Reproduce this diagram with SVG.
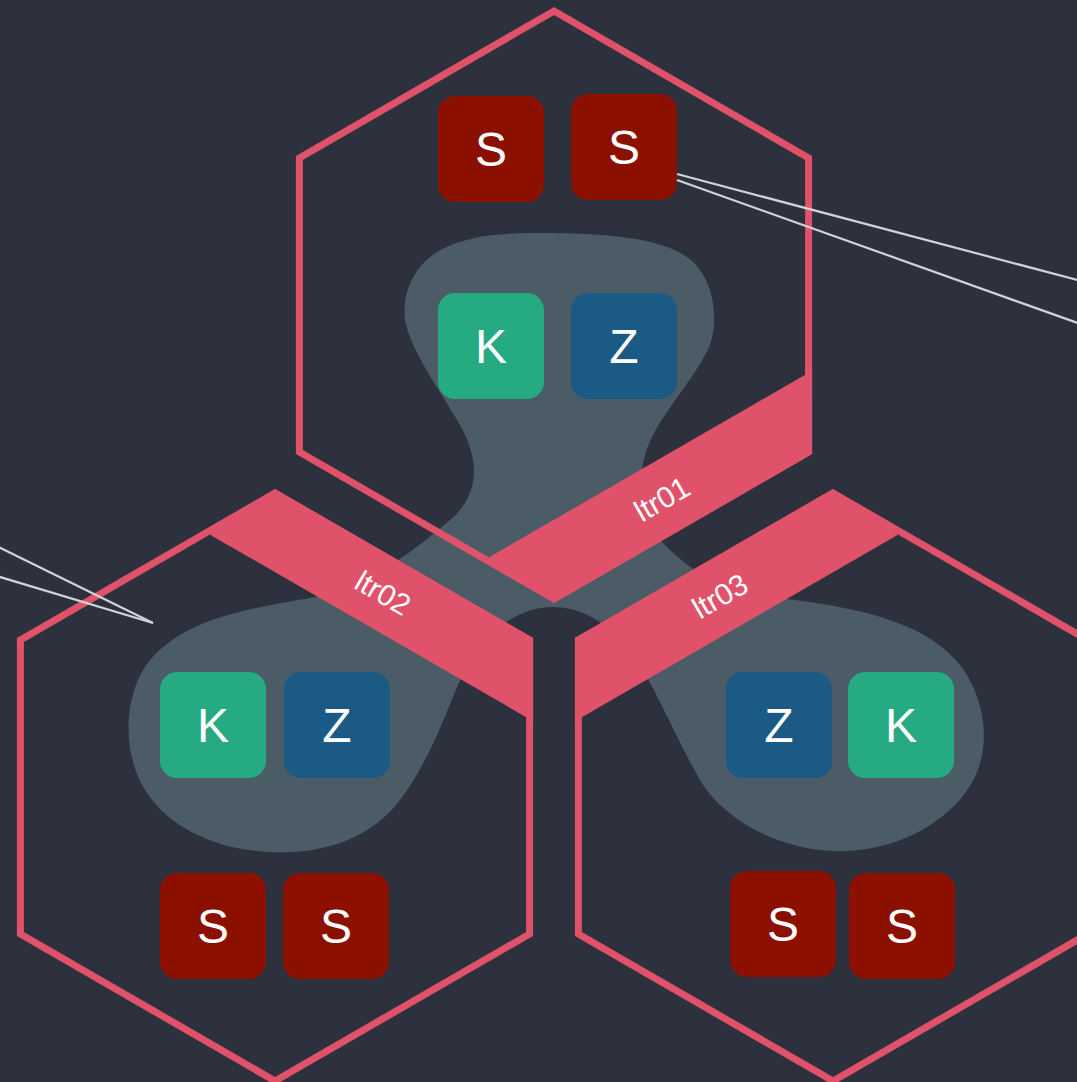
<svg xmlns="http://www.w3.org/2000/svg" width="1077" height="1082" viewBox="0 0 1077 1082">
<style>
.hex{fill:none;stroke:#e0526a;stroke-width:7;stroke-linejoin:miter}
.band{fill:#e0526a}
.lbl{font-family:"Liberation Sans",Arial,sans-serif;font-size:30px;fill:#ffffff;text-anchor:middle}
.n text{font-family:"Liberation Sans",Arial,sans-serif;font-size:48px;fill:#ffffff;text-anchor:middle}
.s rect{fill:#8c1000}
.k rect{fill:#26aa82}
.z rect{fill:#1a5a85}
.conn line{stroke:#d2d3d8;stroke-width:2.2;fill:none}
</style>
<rect x="0" y="0" width="1077" height="1082" fill="#2d303d"/>
<g id="blob">
<path fill="#4b5c67" d="M540 233 C620 233 680 240 700 270 C718 295 718 335 705 355 C690 385 655 420 645 455 C635 490 645 525 665 545 C690 570 720 590 760 596 C850 605 925 620 960 665 C985 697 1000 760 955 805 C915 845 860 855 820 850 C770 845 720 815 700 780 C680 745 665 710 650 683 C635 650 600 607 553 607 C505 607 475 650 460 680 C445 715 430 760 400 800 C370 840 320 855 270 852 C220 850 170 830 145 790 C120 750 125 690 150 660 C185 620 240 610 310 598 C360 590 410 555 450 520 C480 495 480 460 460 425 C440 390 410 350 405 320 C402 290 415 265 440 250 C470 235 500 233 540 233 Z"/>
</g>
<g id="ltr01">
<polygon class="hex" points="554,11 808.6,158 808.6,452 554,599 299.4,452 299.4,158"/>
<polygon class="band" points="489,557.3 554,603 812.1,454 812.1,370.8"/>
<text class="lbl" transform="translate(662,499) rotate(-30)" y="10.5">ltr01</text>
</g>
<g id="ltr02">
<polygon class="hex" points="275,493 529.6,640 529.6,934 275,1081 20.4,934 20.4,640"/>
<polygon class="band" points="210,534.7 275,489 533.1,638 533.1,721.2"/>
<text class="lbl" transform="translate(383,593) rotate(30)" y="10.5">ltr02</text>
</g>
<g id="ltr03">
<polygon class="hex" points="833,493 1087.6,640 1087.6,934 833,1081 578.4,934 578.4,640"/>
<polygon class="band" points="898,534.7 833,489 574.9,638 574.9,721.2"/>
<text class="lbl" transform="translate(720,596) rotate(-30)" y="10.5">ltr03</text>
</g>
<g id="n-top-s1" class="n s"><rect x="438" y="96" width="106" height="106" rx="17"/><text x="491" y="166">S</text></g>
<g id="n-top-s2" class="n s"><rect x="571" y="94" width="106" height="106" rx="17"/><text x="624" y="164">S</text></g>
<g id="n-top-k" class="n k"><rect x="438" y="293" width="106" height="106" rx="17"/><text x="491" y="363">K</text></g>
<g id="n-top-z" class="n z"><rect x="571" y="293" width="106" height="106" rx="17"/><text x="624" y="363">Z</text></g>
<g id="n-left-k" class="n k"><rect x="160" y="672" width="106" height="106" rx="17"/><text x="213" y="742">K</text></g>
<g id="n-left-z" class="n z"><rect x="284" y="672" width="106" height="106" rx="17"/><text x="337" y="742">Z</text></g>
<g id="n-left-s1" class="n s"><rect x="160" y="873" width="106" height="106" rx="17"/><text x="213" y="943">S</text></g>
<g id="n-left-s2" class="n s"><rect x="283" y="873" width="106" height="106" rx="17"/><text x="336" y="943">S</text></g>
<g id="n-right-z" class="n z"><rect x="726" y="672" width="106" height="106" rx="17"/><text x="779" y="742">Z</text></g>
<g id="n-right-k" class="n k"><rect x="848" y="672" width="106" height="106" rx="17"/><text x="901" y="742">K</text></g>
<g id="n-right-s1" class="n s"><rect x="730" y="871" width="106" height="106" rx="17"/><text x="783" y="941">S</text></g>
<g id="n-right-s2" class="n s"><rect x="849" y="873" width="106" height="106" rx="17"/><text x="902" y="943">S</text></g>
<g id="connectors" class="conn">
<line x1="677" y1="174" x2="1100" y2="286"/>
<line x1="677" y1="180" x2="1100" y2="331"/>
<line x1="153" y1="623" x2="-20" y2="538"/>
<line x1="153" y1="623" x2="-20" y2="571"/>
</g>
</svg>
